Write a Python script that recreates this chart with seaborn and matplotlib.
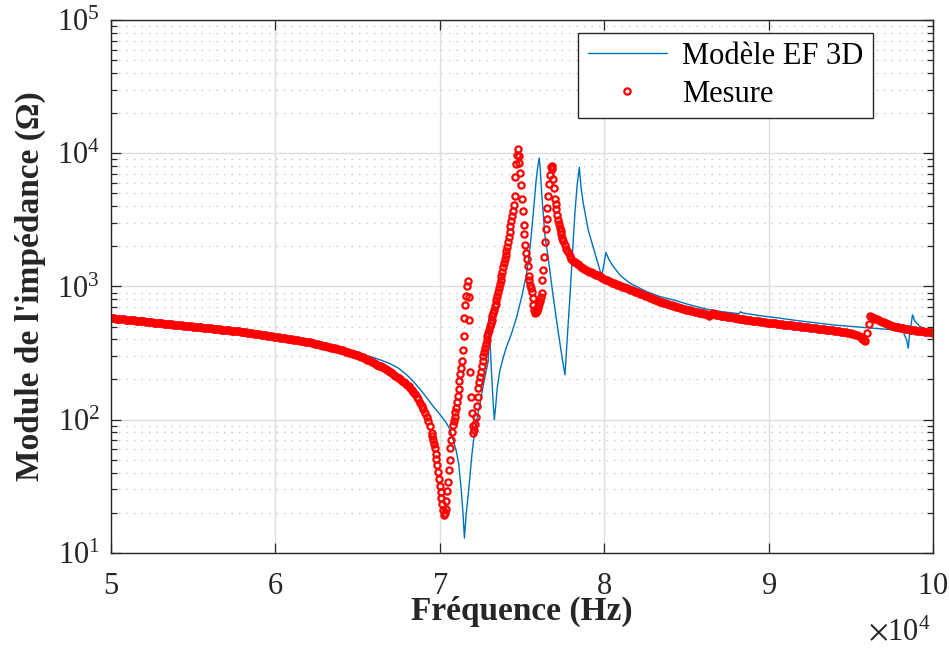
import matplotlib
matplotlib.use("Agg")
import matplotlib.pyplot as plt
import matplotlib.ticker as mticker
import matplotlib.transforms as mtransforms
import numpy as np
import pandas as pd
import seaborn as sns

# ---------------------------------------------------------------------------
# Data. Impedance is stored as log10(|Z| / ohm), the way it
# was read on the log axis; frequencies in kHz.
# ---------------------------------------------------------------------------

# measurement sweep, three segments with their own step
freq_mes_a = np.arange(500, 695) / 10          # 50.0 -> 69.4 kHz, step 0.1
log_mes_a = [
    2.762, 2.761, 2.760, 2.758, 2.757, 2.756, 2.755, 2.753, 2.752, 2.751,  # 50
    2.750, 2.748, 2.747, 2.746, 2.745, 2.743, 2.742, 2.741, 2.740, 2.738,  # 51
    2.737, 2.735, 2.734, 2.733, 2.732, 2.730, 2.729, 2.728, 2.727, 2.725,  # 52
    2.724, 2.722, 2.721, 2.720, 2.719, 2.717, 2.716, 2.715, 2.714, 2.712,  # 53
    2.711, 2.709, 2.708, 2.707, 2.706, 2.704, 2.703, 2.702, 2.701, 2.699,  # 54
    2.698, 2.697, 2.696, 2.694, 2.693, 2.692, 2.691, 2.689, 2.688, 2.687,  # 55
    2.686, 2.684, 2.683, 2.681, 2.680, 2.679, 2.678, 2.676, 2.675, 2.673,  # 56
    2.672, 2.671, 2.670, 2.668, 2.667, 2.665, 2.664, 2.663, 2.662, 2.660,  # 57
    2.659, 2.657, 2.655, 2.653, 2.652, 2.650, 2.648, 2.646, 2.644, 2.642,  # 58
    2.640, 2.638, 2.636, 2.634, 2.632, 2.630, 2.628, 2.626, 2.625, 2.623,  # 59
    2.622, 2.620, 2.618, 2.616, 2.614, 2.612, 2.610, 2.608, 2.606, 2.604,  # 60
    2.602, 2.600, 2.598, 2.596, 2.594, 2.592, 2.590, 2.588, 2.586, 2.584,  # 61
    2.582, 2.580, 2.577, 2.574, 2.571, 2.568, 2.565, 2.562, 2.559, 2.556,  # 62
    2.553, 2.550, 2.547, 2.544, 2.541, 2.538, 2.535, 2.532, 2.529, 2.526,  # 63
    2.522, 2.519, 2.515, 2.511, 2.507, 2.503, 2.499, 2.495, 2.491, 2.487,  # 64
    2.482, 2.477, 2.472, 2.467, 2.461, 2.456, 2.450, 2.444, 2.438, 2.432,  # 65
    2.425, 2.419, 2.412, 2.406, 2.399, 2.392, 2.385, 2.378, 2.370, 2.363,  # 66
    2.355, 2.347, 2.338, 2.329, 2.320, 2.311, 2.301, 2.292, 2.282, 2.272,  # 67
    2.262, 2.250, 2.237, 2.223, 2.208, 2.191, 2.172, 2.151, 2.128, 2.105,  # 68
    2.080, 2.051, 2.020, 1.986, 1.950,                                     # 69
]

freq_mes_b = np.arange(6950, 7751, 5) / 100    # 69.50 -> 77.50 kHz, step 0.05
log_mes_b = [
    1.900, 1.875, 1.850, 1.820, 1.785, 1.745, 1.705, 1.660, 1.610, 1.555,  # 69.5
    1.500, 1.455, 1.410, 1.365, 1.320, 1.285, 1.300, 1.330, 1.390, 1.460,  # 70.0
    1.530, 1.620, 1.700, 1.790, 1.850, 1.910, 1.960, 1.990, 2.020, 2.055,  # 70.5
    2.090, 2.130, 2.180, 2.230, 2.290, 2.340, 2.390, 2.440, 2.520, 2.630,  # 71.0
    2.760, 2.860, 2.930, 3.000, 3.040, 2.920, 2.750, 2.360, 2.170, 2.050,  # 71.5
    1.950, 1.900, 1.920, 1.970, 2.020, 2.100, 2.170, 2.235, 2.285, 2.320,  # 72.0
    2.360, 2.400, 2.440, 2.475, 2.510, 2.540, 2.570, 2.600, 2.625, 2.650,  # 72.5
    2.675, 2.700, 2.725, 2.750, 2.775, 2.800, 2.825, 2.850, 2.870, 2.895,  # 73.0
    2.925, 2.955, 2.985, 3.020, 3.050, 3.080, 3.110, 3.145, 3.175, 3.205,  # 73.5
    3.235, 3.265, 3.295, 3.330, 3.370, 3.410, 3.450, 3.490, 3.530, 3.565,  # 74.0
    3.610, 3.680, 3.820, 3.920, 3.990, 4.030, 3.980, 3.930, 3.850, 3.760,  # 74.5
    3.660, 3.570, 3.460, 3.390, 3.310, 3.250, 3.205, 3.155, 3.080, 3.045,  # 75.0
    3.010, 2.985, 2.955, 2.910, 2.860, 2.820, 2.800, 2.805, 2.815, 2.835,  # 75.5
    2.850, 2.865, 2.890, 2.920, 2.950, 3.050, 3.120, 3.220, 3.330, 3.430,  # 76.0
    3.510, 3.590, 3.680, 3.770, 3.840, 3.900, 3.905, 3.880, 3.810, 3.740,  # 76.5
    3.660, 3.620, 3.580, 3.540, 3.500, 3.470, 3.440, 3.415, 3.390, 3.365,  # 77.0
    3.340,
]

freq_mes_c = np.arange(776, 1001) / 10         # 77.6 -> 100.0 kHz, step 0.1
log_mes_c = [
    3.310, 3.283, 3.255, 3.230,                                            # 77.6
    3.205, 3.192, 3.180, 3.175, 3.170, 3.158, 3.145, 3.138, 3.130, 3.124,  # 78
    3.118, 3.112, 3.106, 3.100, 3.095, 3.089, 3.083, 3.076, 3.070, 3.063,  # 79
    3.057, 3.051, 3.045, 3.039, 3.034, 3.029, 3.024, 3.019, 3.014, 3.009,  # 80
    3.004, 2.999, 2.994, 2.990, 2.985, 2.980, 2.975, 2.970, 2.965, 2.960,  # 81
    2.955, 2.950, 2.945, 2.940, 2.935, 2.930, 2.925, 2.920, 2.915, 2.910,  # 82
    2.905, 2.900, 2.895, 2.890, 2.885, 2.881, 2.877, 2.873, 2.869, 2.865,  # 83
    2.861, 2.857, 2.853, 2.850, 2.846, 2.843, 2.839, 2.836, 2.832, 2.829,  # 84
    2.826, 2.823, 2.820, 2.817, 2.814, 2.811, 2.808, 2.805, 2.802, 2.800,  # 85
    2.797, 2.795, 2.792, 2.786, 2.778, 2.790, 2.800, 2.794, 2.788, 2.786,  # 86
    2.783, 2.781, 2.779, 2.777, 2.775, 2.773, 2.771, 2.769, 2.767, 2.765,  # 87
    2.763, 2.761, 2.759, 2.757, 2.755, 2.753, 2.751, 2.749, 2.747, 2.746,  # 88
    2.744, 2.742, 2.741, 2.739, 2.737, 2.736, 2.734, 2.732, 2.731, 2.729,  # 89
    2.728, 2.726, 2.725, 2.723, 2.722, 2.720, 2.719, 2.717, 2.716, 2.714,  # 90
    2.713, 2.711, 2.710, 2.708, 2.707, 2.705, 2.704, 2.702, 2.701, 2.699,  # 91
    2.698, 2.696, 2.695, 2.693, 2.692, 2.690, 2.689, 2.687, 2.686, 2.684,  # 92
    2.683, 2.681, 2.680, 2.678, 2.677, 2.675, 2.674, 2.672, 2.671, 2.669,  # 93
    2.668, 2.666, 2.665, 2.663, 2.661, 2.659, 2.657, 2.655, 2.653, 2.651,  # 94
    2.648, 2.645, 2.641, 2.637, 2.632, 2.626, 2.618, 2.608, 2.595, 2.590,  # 95
    2.650, 2.720, 2.775, 2.770, 2.765, 2.758, 2.752, 2.746, 2.740, 2.735,  # 96
    2.730, 2.725, 2.720, 2.715, 2.710, 2.706, 2.702, 2.698, 2.695, 2.692,  # 97
    2.689, 2.686, 2.684, 2.681, 2.679, 2.677, 2.675, 2.673, 2.671, 2.669,  # 98
    2.668, 2.666, 2.665, 2.663, 2.662, 2.660, 2.659, 2.657, 2.656, 2.654,  # 99
    2.653,                                                                 # 100
]

# 3D FE model
freq_model = [
    50.0, 52.0, 54.0, 56.0, 58.0, 60.0, 61.0, 62.0, 63.0, 64.0,
    64.5, 65.0, 65.5, 66.0, 66.5, 67.0, 67.5, 68.0, 68.4, 68.8,
    69.2, 69.6, 70.0, 70.4, 70.6, 70.8, 71.0, 71.15, 71.3, 71.4,
    71.5, 71.6, 71.75, 71.95, 72.1, 72.25, 72.45, 72.65, 72.85, 72.95,
    73.0, 73.05, 73.15, 73.25, 73.32, 73.4, 73.5, 73.66, 73.85, 74.07,
    74.35, 74.68, 75.0, 75.29, 75.5, 75.69, 75.85, 75.95, 76.05, 76.12,
    76.2, 76.4, 76.6, 76.9, 77.1, 77.31, 77.5, 77.62, 77.75, 77.92,
    78.1, 78.22, 78.35, 78.49, 78.6, 78.73, 79.03, 79.44, 79.7, 79.85,
    80.11, 80.3, 80.56, 81.0, 81.57, 82.58, 83.39, 84.2, 85.2, 86.23,
    87.2, 88.2, 88.3, 88.45, 89.5, 90.7, 91.9, 93.0, 94.0, 95.0,
    96.0, 97.0, 97.8, 98.2, 98.4, 98.5, 98.6, 98.76, 98.9, 99.2,
    99.6, 100.0,
]
log_model = [
    2.766, 2.741, 2.716, 2.690, 2.664, 2.628, 2.609, 2.589, 2.565, 2.537,
    2.520, 2.502, 2.484, 2.464, 2.443, 2.418, 2.385, 2.335, 2.285, 2.228,
    2.165, 2.100, 2.040, 1.975, 1.930, 1.855, 1.765, 1.670, 1.480, 1.320,
    1.110, 1.280, 1.460, 1.730, 1.890, 2.000, 2.120, 2.260, 2.380, 2.440,
    2.760, 2.600, 2.350, 2.120, 2.000, 2.100, 2.240, 2.370, 2.460, 2.550,
    2.640, 2.770, 2.930, 3.100, 3.300, 3.550, 3.780, 3.890, 3.965, 3.870,
    3.700, 3.380, 3.210, 2.924, 2.750, 2.574, 2.420, 2.336, 2.600, 2.924,
    3.300, 3.549, 3.750, 3.894, 3.740, 3.624, 3.424, 3.249, 3.140, 3.074,
    3.254, 3.200, 3.149, 3.080, 3.024, 2.961, 2.924, 2.899, 2.862, 2.829,
    2.810, 2.795, 2.810, 2.800, 2.780, 2.761, 2.741, 2.725, 2.710, 2.700,
    2.690, 2.680, 2.672, 2.655, 2.600, 2.536, 2.650, 2.786, 2.740, 2.700,
    2.680, 2.670,
]

assert len(freq_mes_a) == len(log_mes_a)
assert len(freq_mes_b) == len(log_mes_b)
assert len(freq_mes_c) == len(log_mes_c)
assert len(freq_model) == len(log_model)

mesure = pd.DataFrame({
    "freq": np.concatenate([freq_mes_a, freq_mes_b, freq_mes_c]) * 1e3,
    "z": 10 ** np.concatenate([log_mes_a, log_mes_b, log_mes_c]),
})
modele = pd.DataFrame({
    "freq": np.asarray(freq_model) * 1e3,
    "z": 10 ** np.asarray(log_model),
})

# ---------------------------------------------------------------------------
sns.set_theme(style="ticks")
plt.rcParams["font.family"] = ["Liberation Serif", "DejaVu Serif"]
plt.rcParams["mathtext.fontset"] = "stix"

ink = "#262626"

fig, ax = plt.subplots(figsize=(9.49, 6.48), dpi=100)
fig.subplots_adjust(left=0.117, right=0.983, bottom=0.147, top=0.969)

ax.set_yscale("log")

sns.lineplot(data=modele, x="freq", y="z", ax=ax, color="#0072BD",
             linewidth=1.0, estimator=None, sort=False, label="Modèle EF 3D")
sns.lineplot(data=mesure, x="freq", y="z", ax=ax, color="red",
             linestyle="", marker="o", markersize=4.5,
             markerfacecolor="none", markeredgecolor="red",
             markeredgewidth=1.6, estimator=None, sort=False, label="Mesure")

ax.set_xlim(5e4, 1e5)
ax.set_ylim(10, 1e5)

ax.set_xticks(np.arange(5e4, 1.01e5, 1e4))
ax.ticklabel_format(axis="x", style="sci", scilimits=(4, 4), useMathText=True)
offset = ax.xaxis.get_offset_text()
offset.set_fontsize(22)
offset.set_color(ink)
offset.set_transform(offset.get_transform()
                     + mtransforms.ScaledTranslation(-0.02, -0.12, fig.dpi_scale_trans))
ax.yaxis.set_major_locator(mticker.LogLocator(base=10, numticks=10))
ax.yaxis.set_minor_locator(mticker.LogLocator(base=10, subs=np.arange(2, 10), numticks=20))
ax.yaxis.set_minor_formatter(mticker.NullFormatter())

ax.tick_params(which="both", direction="in", top=True, right=True,
               colors=ink, labelsize=22, width=0.9)
ax.tick_params(which="major", length=7)
ax.tick_params(which="minor", length=4)
ax.tick_params(axis="x", which="minor", bottom=False, top=False)
ax.tick_params(axis="x", pad=14)
ax.tick_params(axis="y", pad=8)

ax.grid(which="major", color="#dedede", linewidth=1.0, linestyle="-")
ax.grid(which="minor", axis="y", color="#bdbdbd", linewidth=0.9,
        linestyle=(0, (1, 5)))
ax.set_axisbelow(True)

for sp in ax.spines.values():
    sp.set_color(ink)
    sp.set_linewidth(1.0)

ax.set_xlabel("Fréquence (Hz)", fontsize=24, fontweight="bold", labelpad=-4)
ax.set_ylabel("Module de l'impédance (Ω)", fontsize=24, fontweight="bold",
              labelpad=8)

leg = ax.legend(loc="upper right", bbox_to_anchor=(0.927, 0.976),
                borderaxespad=0, frameon=True, fancybox=False,
                edgecolor=ink, framealpha=1, fontsize=22,
                handlelength=2.6, labelspacing=0.28, borderpad=0.3,
                handletextpad=0.5)
leg.get_frame().set_linewidth(1.0)
for t in leg.get_texts():
    t.set_color("black")

fig.savefig("out.png", dpi=100)
